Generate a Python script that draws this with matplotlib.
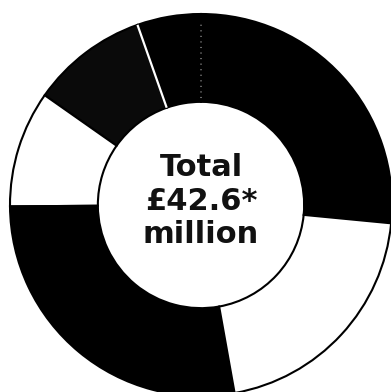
import matplotlib.pyplot as plt
import numpy as np

# Segments in £ million, counter-clockwise from the right-hand boundary
labels = ['A', 'B', 'C', 'D', 'E', 'F']
values = [11.3, 2.3, 4.2, 4.2, 11.8, 8.8]
colors = ['black', 'black', '#0a0a0a', 'white', 'black', 'white']
start_angle = -5.5
total_text = 'Total\n£42.6*\nmillion'

W, H = 391, 392
cx, cy, r_px = 201, 187, 191  # centre from left / bottom, outer radius in px

fig = plt.figure(figsize=(W / 100, H / 100), dpi=100)
ax = fig.add_axes([0, 0, 1, 1])

wedges, _ = ax.pie(values, colors=colors, startangle=start_angle,
                   counterclock=True, radius=1.0,
                   wedgeprops=dict(width=0.46, edgecolor='black', linewidth=1.5))
ax.set_xlim(-cx / r_px, (W - cx) / r_px)
ax.set_ylim(-cy / r_px, (H - cy) / r_px)
ax.set_aspect('equal')
ax.axis('off')

# white separator line between the big black segment and the dark one
fracs = np.cumsum(values) / sum(values)
ang = np.deg2rad(start_angle + 360 * fracs[1])
ax.plot([0.54 * np.cos(ang), np.cos(ang)], [0.54 * np.sin(ang), np.sin(ang)],
        color='white', lw=1.6, solid_capstyle='butt')
# faint dotted division inside the black segment
ang = np.deg2rad(start_angle + 360 * fracs[0])
ax.plot([0.56 * np.cos(ang), 0.96 * np.cos(ang)], [0.56 * np.sin(ang), 0.96 * np.sin(ang)],
        color='#bbbbbb', lw=0.8, ls=(0, (1, 4)))

ax.text(0, 0.02, total_text, ha='center', va='center', fontsize=22,
        fontweight='bold', family='DejaVu Sans', linespacing=1.2, color='#111111')

fig.savefig('out.png', dpi=100)
